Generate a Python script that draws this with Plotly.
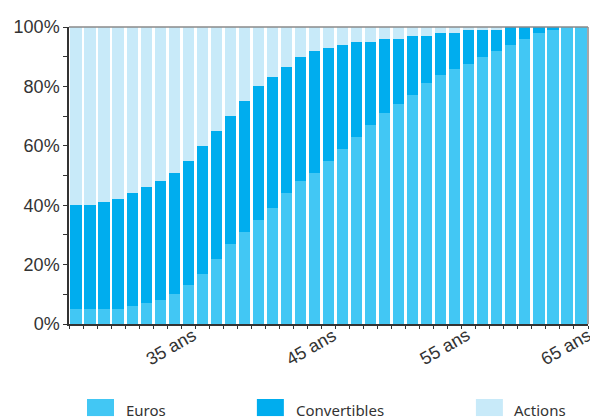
import plotly.graph_objects as go

ages = list(range(29, 66))
euros = [5, 5, 5, 5, 6, 7, 8, 10, 13, 17, 22, 27, 31, 35, 39, 44, 48, 51, 55,
         59, 63, 67, 71, 74, 77, 81, 84, 86, 87.5, 90, 92, 94, 96, 98, 99, 100, 100]
conv_top = [40, 40, 41, 42, 44, 46, 48, 51, 55, 60, 65, 70, 75, 80, 83, 86.5, 90, 92, 93,
            94, 95, 95, 96, 96, 97, 97, 98, 98, 99, 99, 99, 100, 100, 100, 100, 100, 100]
convertibles = [c - e for c, e in zip(conv_top, euros)]
actions = [100 - c for c in conv_top]

label_ages = [35, 45, 55, 65]
label_texts = ["35 ans", "45 ans", "55 ans", "65 ans"]
label_shift = [11, 11, 4, -15]

series = [("Euros", euros, "#42C7F4"), ("Convertibles", convertibles, "#00ADEE"),
          ("Actions", actions, "#C8EAF9")]

fig = go.Figure()
for name, vals, col in series:
    fig.add_trace(go.Bar(x=ages, y=vals, name=name, marker_color=col,
                         marker_line_width=0, showlegend=False))

# page body has an 8px margin, so the figure is sized/offset to compensate
fig.update_layout(
    barmode="stack", bargap=0.2,
    width=590, height=411,
    margin=dict(l=61, r=10, t=19, b=95, autoexpand=False),
    plot_bgcolor="white", paper_bgcolor="white",
    font=dict(family="Liberation Sans, Arial, sans-serif", color="#333333"),
)
boundaries = [a - 0.5 for a in ages] + [ages[-1] + 0.5]
fig.update_xaxes(range=[28.5, 65.5], tickvals=boundaries, showticklabels=False,
                 ticks="outside", ticklen=3, tickcolor="#333333",
                 showline=True, linecolor="#333333", linewidth=1.5,
                 showgrid=False, zeroline=False)
fig.update_yaxes(range=[0, 100], tickvals=[0, 20, 40, 60, 80, 100],
                 ticktext=["0%", "20%", "40%", "60%", "80%", "100%"],
                 ticks="outside", ticklen=4, tickcolor="#333333",
                 minor=dict(tickvals=[10, 30, 50, 70, 90], ticks="outside", ticklen=4,
                            tickcolor="#333333"),
                 tickfont=dict(size=18, color="#333333"),
                 showline=True, linecolor="#333333", linewidth=1.5,
                 showgrid=False, zeroline=False)

# frame top & right
fig.add_shape(type="line", xref="paper", yref="paper", x0=0, x1=1, y0=1, y1=1,
              line=dict(color="#8a8a8a", width=1.5))
fig.add_shape(type="line", xref="paper", yref="paper", x0=1, x1=1, y0=0, y1=1,
              line=dict(color="#8a8a8a", width=1.5))

for a, t, s in zip(label_ages, label_texts, label_shift):
    fig.add_annotation(x=a, y=-0.0774, xref="x", yref="paper", text=t, showarrow=False,
                       textangle=-30, xshift=s,
                       font=dict(size=18, color="#333333"), yanchor="middle", xanchor="center")

leg_sw = [(0.0347, 0.0867), (0.362, 0.414), (0.784, 0.836)]
leg_tx = [0.106, 0.4335, 0.8536]
for (name, _, col), (x0, x1), tx in zip(series, leg_sw, leg_tx):
    fig.add_shape(type="rect", xref="paper", yref="paper", x0=x0, x1=x1, y0=-0.31, y1=-0.2525,
                  fillcolor=col, line_width=0)
    fig.add_annotation(x=tx, y=-0.29, xref="paper", yref="paper", text=name, showarrow=False,
                       xanchor="left", yanchor="middle",
                       font=dict(family="Noto Sans, Open Sans, sans-serif", size=15, color="#333333"))

fig.write_html("out.html")
